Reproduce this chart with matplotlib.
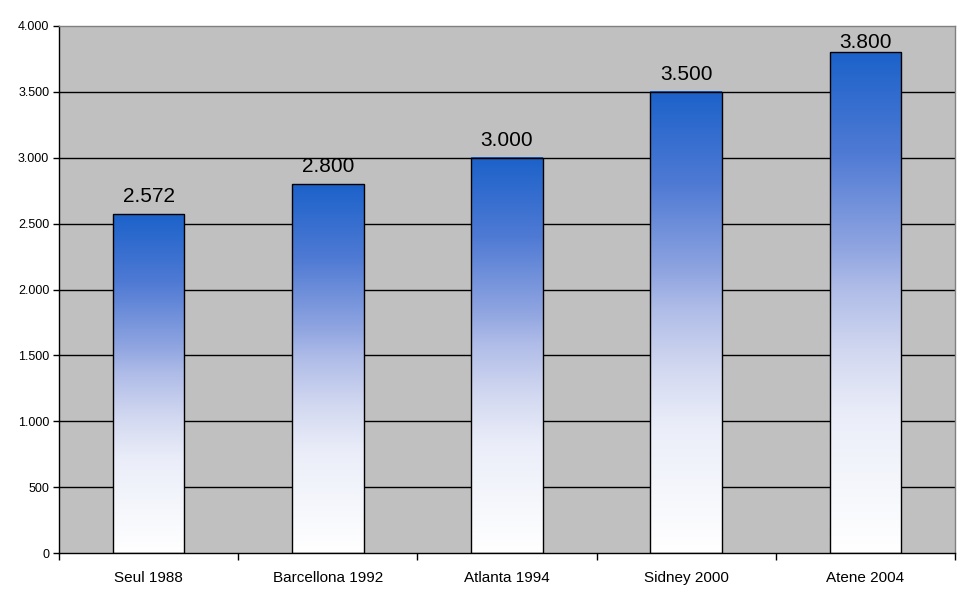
import numpy as np
import matplotlib
matplotlib.use("Agg")
import matplotlib.pyplot as plt
from matplotlib.colors import LinearSegmentedColormap
from matplotlib.ticker import FuncFormatter, FixedLocator

categories = ["Seul 1988", "Barcellona 1992", "Atlanta 1994", "Sidney 2000", "Atene 2004"]
values = [2572, 2800, 3000, 3500, 3800]
value_labels = ["2.572", "2.800", "3.000", "3.500", "3.800"]
yticks = [0, 500, 1000, 1500, 2000, 2500, 3000, 3500, 4000]

plt.rcParams['font.family'] = ['Liberation Sans', 'DejaVu Sans']

fig = plt.figure(figsize=(9.7, 6.04), dpi=100)
fig.patch.set_facecolor('white')
ax_h_px = 527
ax = fig.add_axes([59/970, 51/604, 896/970, ax_h_px/604])
ax.set_facecolor('#C0C0C0')

x = np.arange(len(categories))
ymax = 4000
ax.set_xlim(-0.5, len(categories) - 0.5)
ax.set_ylim(0, ymax)

for yv in yticks[1:-1]:
    ax.axhline(yv, color='black', linewidth=1.0, zorder=1)

cmap = LinearSegmentedColormap.from_list(
    'grad', [(0.0, '#FFFFFF'), (0.27, '#EBEEF9'), (0.4, '#D2D8F0'), (0.53, '#AFBCE8'),
             (0.6, '#93A7E1'), (0.8, '#4F7AD4'), (1.0, '#1C62CA')])
grad = np.linspace(0, 1, 256).reshape(-1, 1)
bw = 0.4
ax.bar(x, values, width=bw, facecolor='none', edgecolor='black', linewidth=1.0, zorder=3)
for xi, v in zip(x, values):
    ax.imshow(grad, cmap=cmap, origin='lower', aspect='auto',
              extent=(xi - bw/2, xi + bw/2, 0, v), zorder=2, interpolation='bicubic')

px = ymax / ax_h_px  # data units per pixel
for xi, v, lab in zip(x, values, value_labels):
    ylab = min(v + 12 * px, ymax - 22 * px)
    ax.text(xi, ylab, lab, ha='center', va='baseline', fontsize=15, color='black', zorder=4)

ax.set_xlim(-0.5, len(categories) - 0.5)
ax.set_ylim(0, ymax)
ax.yaxis.set_major_locator(FixedLocator(yticks))
ax.yaxis.set_major_formatter(FuncFormatter(lambda v, p: f"{int(v):,}".replace(",", ".")))
ax.set_xticks(x)
ax.set_xticklabels(categories, fontsize=11)
ax.xaxis.set_minor_locator(FixedLocator(np.arange(-0.5, len(categories), 1.0)))
ax.tick_params(axis='x', which='major', length=0, pad=13)
ax.tick_params(axis='x', which='minor', length=5, width=1, color='black', direction='out')
ax.tick_params(axis='y', labelsize=9, length=4, width=1, direction='out', pad=3)

ax.spines['left'].set_color('black')
ax.spines['bottom'].set_color('black')
ax.spines['top'].set_color('#808080')
ax.spines['right'].set_color('#808080')
for s in ax.spines.values():
    s.set_linewidth(1.0)
    s.set_zorder(5)

fig.savefig('out.png', dpi=100)
